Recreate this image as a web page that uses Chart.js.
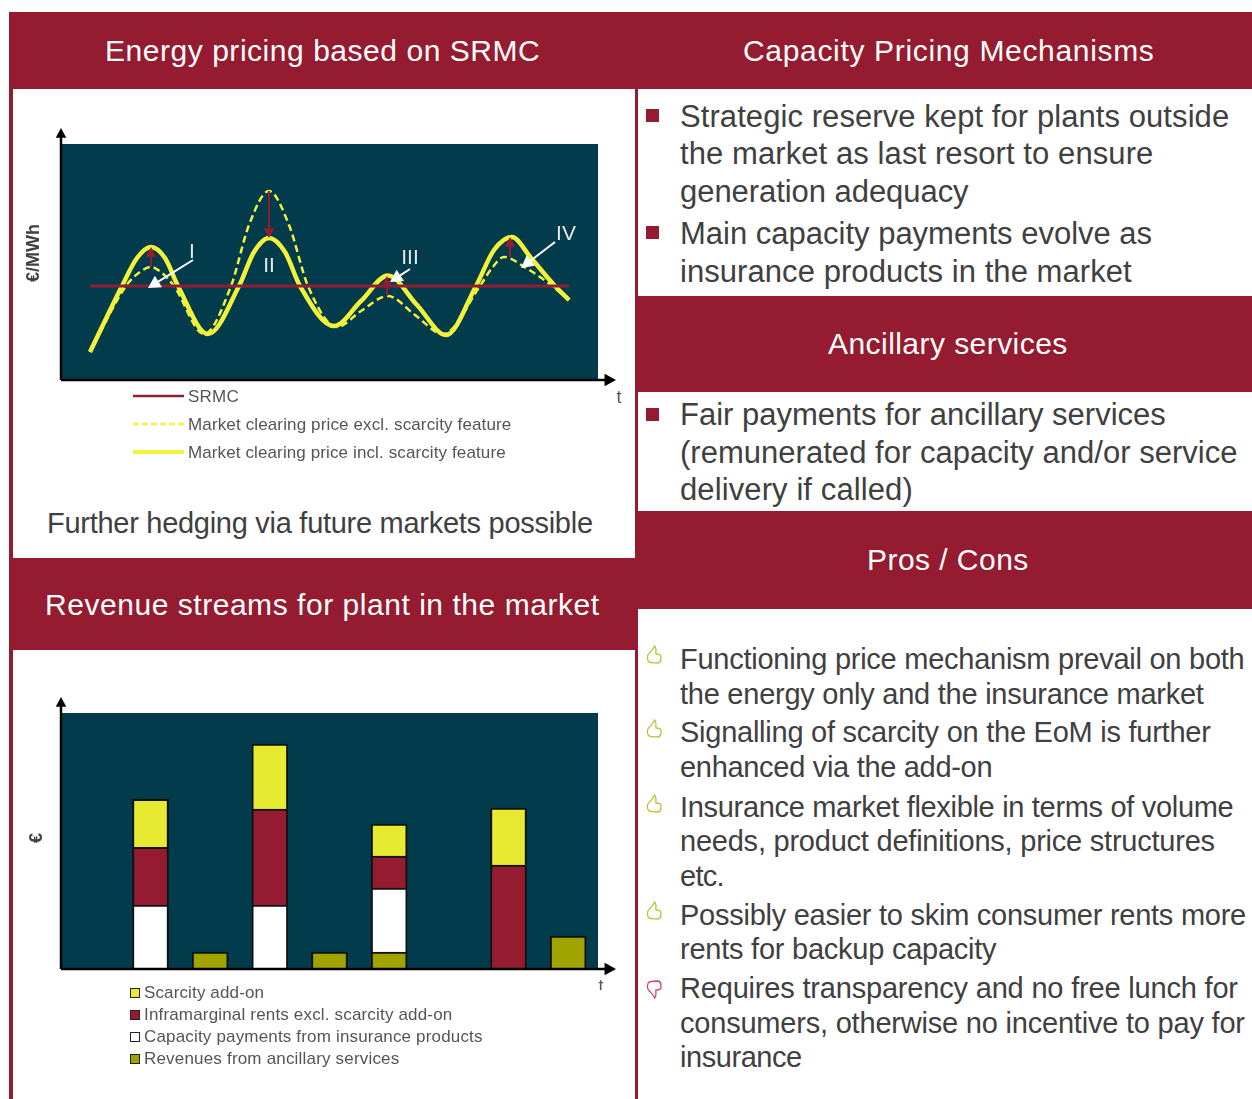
<!DOCTYPE html>
<html lang="en">
<head>
<meta charset="UTF-8">
<title>Energy and capacity pricing</title>
<script src="https://cdn.jsdelivr.net/npm/chart.js"></script>
<style>
    html, body { margin: 0; padding: 0; background: #fff; }
    #page { position: relative; width: 1252px; height: 1099px; overflow: hidden; font-family: "Liberation Sans", Arial, sans-serif; color: #404040; }
    .box { position: absolute; background: #951c30; }
    .line { position: absolute; white-space: nowrap; transform: translateY(-50%); }
    .white { color: #fff; }
    .legtext { color: #555; }
    canvas { position: absolute; }
    .swatch { position: absolute; width: 8px; height: 8px; border: 1.5px solid #222; }
    svg { position: absolute; }
</style>
</head>
<body>
<div id="page">
    <canvas id="priceChart" width="620" height="310" style="left:14px;top:100px"></canvas>
    <canvas id="revenueChart" width="620" height="310" style="left:14px;top:680px"></canvas>
</div>

<script>
    // Line chart values (arbitrary units, no ticks in the original)
    const priceMax = 236;
    const timeMax = 537;
    const srmc = [[29, 94], [508, 94]];
    const priceExcl = [[29, 28], [65, 94], [79, 108], [90, 113], [101, 107], [113, 94], [143, 46], [170, 94], [188, 155], [208, 189], [228, 155], [247, 94], [276, 53], [300, 69], [327, 84], [354, 65], [382, 46], [419, 94], [431, 112], [443, 123], [465, 112], [486, 98], [508, 80]];
    const priceIncl = [[29, 28], [61, 94], [76, 122], [90, 133], [104, 122], [117, 94], [147, 46], [178, 94], [193, 128], [208, 142], [224, 128], [239, 94], [273, 54], [300, 79], [327, 104.5], [356, 75], [385, 45], [415, 94], [433, 130], [451, 143], [470, 122], [494, 94], [508, 80]];

    // Bar chart values
    const periods = ['', 'A', 'B', 'C', 'D', 'E', 'F', 'G', 'H'];
    const revenueMax = 16;
    const ancillary = [0, 0, 1.05, 0, 1.05, 1.05, 0, 0, 2.05];
    const capacity = [0, 4, 0, 4, 0, 4, 0, 0, 0];
    const inframarginal = [0, 3.6, 0, 6, 0, 2, 0, 6.5, 0];
    const scarcity = [0, 3, 0, 4.05, 0, 2, 0, 3.55, 0];

    // Annotations on the line chart: [from t, from v, to t, to v]
    const redArrows = [[90, 113, 90, 133], [208, 189, 208, 142], [326, 84, 326, 104], [449, 123, 449, 143]];
    const whiteArrows = [[132, 120, 87, 92], [349, 111, 329, 98], [494, 138, 460, 112]];
    const romanLabels = [['I', 131, 128], ['II', 208, 114], ['III', 349, 122], ['IV', 505, 146]];

    // Text lines: text, left, right, middle y
    const headers = [
        ['Energy pricing based on SRMC', 105, 540, 51],
        ['Capacity Pricing Mechanisms', 743, 1154, 51],
        ['Ancillary services', 828, 1068, 344],
        ['Pros / Cons', 867, 1029, 560],
        ['Revenue streams for plant in the market', 45, 600, 605]
    ];
    const bodyLines = [
        ['Strategic reserve kept for plants outside', 680, 1229, 117],
        ['the market as last resort to ensure', 680, 1153, 154],
        ['generation adequacy', 680, 969, 192],
        ['Main capacity payments evolve as', 680, 1152, 234],
        ['insurance products in the market', 680, 1132, 272],
        ['Fair payments for ancillary services', 680, 1166, 415],
        ['(remunerated for capacity and/or service', 680, 1238, 453],
        ['delivery if called)', 680, 913, 490]
    ];
    const hedgeLine = ['Further hedging via future markets possible', 47, 593, 523];
    const prosLines = [
        ['Functioning price mechanism prevail on both', 680, 1244, 659],
        ['the energy only and the insurance market', 680, 1204, 694],
        ['Signalling of scarcity on the EoM is further', 680, 1211, 732],
        ['enhanced via the add-on', 680, 992, 767],
        ['Insurance market flexible in terms of volume', 680, 1233, 807],
        ['needs, product definitions, price structures', 680, 1215, 841],
        ['etc.', 680, 724, 876],
        ['Possibly easier to skim consumer rents more', 680, 1246, 915],
        ['rents for backup capacity', 680, 996, 949],
        ['Requires transparency and no free lunch for', 680, 1238, 988],
        ['consumers, otherwise no incentive to pay for', 680, 1245, 1023],
        ['insurance', 680, 802, 1057]
    ];

    const priceLegend = [['SRMC', 188, 239, 397], ['Market clearing price excl. scarcity feature', 188, 511, 425], ['Market clearing price incl. scarcity feature', 188, 506, 453]];
    const revenueLegend = [['Scarcity add-on', 144, 264, 993], ['Inframarginal rents excl. scarcity add-on', 144, 452, 1015], ['Capacity payments from insurance products', 144, 483, 1037], ['Revenues from ancillary services', 144, 399, 1059]];
    const swatchColors = ['#e6ea30', '#951c30', '#ffffff', '#a0a300'];

    const bars = [[9, 12, 1243, 77], [9, 12, 3.5, 1087], [634.5, 89, 3.5, 1010], [638, 296, 614, 96], [638, 511, 614, 98], [9, 558, 626, 92]];
    const page = document.getElementById('page');

    bars.forEach(b => {
        const d = document.createElement('div');
        d.className = 'box';
        d.style.cssText = `left:${b[0]}px;top:${b[1]}px;width:${b[2]}px;height:${b[3]}px`;
        page.appendChild(d);
    });

    // Place a line of text and stretch it a little to the width in the picture
    function addLine(row, size, cls) {
        const d = document.createElement('div');
        d.className = 'line ' + (cls || '');
        d.textContent = row[0];
        d.style.left = row[1] + 'px';
        d.style.top = row[3] + 'px';
        d.style.fontSize = size + 'px';
        page.appendChild(d);
        const extra = (row[2] - row[1] - d.offsetWidth) / row[0].length;
        d.style.letterSpacing = extra.toFixed(3) + 'px';
    }
    headers.forEach(r => addLine(r, 30, 'white'));
    bodyLines.forEach(r => addLine(r, 31));
    addLine(hedgeLine, 29);
    prosLines.forEach(r => addLine(r, 29));

    // Square bullets
    [115, 232, 414].forEach(y => {
        const d = document.createElement('div');
        d.className = 'box';
        d.style.cssText = `left:646px;top:${y - 6}px;width:13px;height:13px`;
        page.appendChild(d);
    });

    // Thumb icons
    function addThumb(y, down) {
        const color = down ? '#c9485f' : '#b9c23a';
        const s = document.createElementNS('http://www.w3.org/2000/svg', 'svg');
        s.setAttribute('width', 16);
        s.setAttribute('height', 20);
        s.style.left = '646px';
        s.style.top = (y - 10) + 'px';
        if (down) s.style.transform = 'scale(1,-1)';
        s.innerHTML = `<path d="M8.5 1 C8 4 5 6 3 8.5 C1 10 1 14 2.5 16.5 C4 18 9 18 12 18 C15 17.5 15 15 15 12 C15 9.5 13 9 10 9 C9.5 6 11 3 8.5 1 Z" fill="none" stroke="${color}" stroke-width="1.3"/>`;
        page.appendChild(s);
    }
    [655, 729, 804, 911].forEach(y => addThumb(y, false));
    addThumb(989, true);

    // Legends below the two plots
    priceLegend.forEach(r => addLine(r, 17, 'legtext'));
    revenueLegend.forEach((r, i) => {
        addLine(r, 17, 'legtext');
        const sw = document.createElement('div');
        sw.className = 'swatch';
        sw.style.cssText = `left:130px;top:${r[3] - 5}px;background:${swatchColors[i]}`;
        page.appendChild(sw);
    });

    // Legend line samples for the price chart
    const legendLines = document.createElementNS('http://www.w3.org/2000/svg', 'svg');
    legendLines.setAttribute('width', 60);
    legendLines.setAttribute('height', 70);
    legendLines.style.cssText = 'left:130px;top:390px';
    legendLines.innerHTML = '<line x1="3" x2="54" y1="6" y2="6" stroke="#951c30" stroke-width="2.5"/><line x1="3" x2="54" y1="34" y2="34" stroke="#f2f23a" stroke-width="2.5" stroke-dasharray="6 3"/><line x1="3" x2="54" y1="62" y2="62" stroke="#f2f23a" stroke-width="4"/>';
    page.appendChild(legendLines);

    function drawArrow(c, x0, y0, x1, y1, color, lw, head) {
        const a = Math.atan2(y1 - y0, x1 - x0);
        c.strokeStyle = color;
        c.fillStyle = color;
        c.lineWidth = lw;
        c.beginPath();
        c.moveTo(x0, y0);
        c.lineTo(x1 - Math.cos(a) * head * 0.8, y1 - Math.sin(a) * head * 0.8);
        c.stroke();
        c.beginPath();
        c.moveTo(x1, y1);
        c.lineTo(x1 - Math.cos(a - 0.5) * head, y1 - Math.sin(a - 0.5) * head);
        c.lineTo(x1 - Math.cos(a + 0.5) * head, y1 - Math.sin(a + 0.5) * head);
        c.closePath();
        c.fill();
    }

    // Axis lines with arrow tips and the axis captions
    const axisPlugin = {
        id: 'axisArrows',
        afterDraw(chart, args, opts) {
            const c = chart.ctx, a = chart.chartArea;
            c.save();
            drawArrow(c, a.left, a.bottom, a.left, a.top - 16, '#000', 2.5, 11);
            drawArrow(c, a.left, a.bottom, a.right + 18, a.bottom, '#000', 2.5, 13);
            c.fillStyle = '#555';
            c.font = '18px "Liberation Sans"';
            c.textAlign = 'center';
            c.textBaseline = 'middle';
            c.fillText('t', a.right + opts.tx, a.bottom + opts.ty);
            c.translate(a.left - opts.labelX, opts.labelY);
            c.rotate(-Math.PI / 2);
            c.fillStyle = '#404040';
            c.font = 'bold 18px "Liberation Sans"';
            c.fillText(opts.label, 0, 0);
            c.restore();
        }
    };

    // Scarcity arrows and roman numerals, placed through the scales
    const notePlugin = {
        id: 'notes',
        afterDatasetsDraw(chart) {
            const c = chart.ctx, x = chart.scales.x, y = chart.scales.y;
            c.save();
            redArrows.forEach(r => drawArrow(c, x.getPixelForValue(r[0]), y.getPixelForValue(r[1]), x.getPixelForValue(r[2]), y.getPixelForValue(r[3]), '#951c30', 2, 11));
            whiteArrows.forEach(r => drawArrow(c, x.getPixelForValue(r[0]), y.getPixelForValue(r[1]), x.getPixelForValue(r[2]), y.getPixelForValue(r[3]), '#ffffff', 2, 14));
            c.fillStyle = '#e8e8e8';
            c.font = '21px "Liberation Sans"';
            c.textAlign = 'center';
            c.textBaseline = 'middle';
            romanLabels.forEach(r => c.fillText(r[0], x.getPixelForValue(r[1]), y.getPixelForValue(r[2])));
            c.restore();
        }
    };

    const plotBackground = {
        id: 'plotBackground',
        beforeDraw(chart) {
            const a = chart.chartArea;
            chart.ctx.fillStyle = '#023c4c';
            chart.ctx.fillRect(a.left, a.top, a.right - a.left, a.bottom - a.top);
        }
    };

    const toPoints = rows => rows.map(r => ({ x: r[0], y: r[1] }));

    new Chart(document.getElementById('priceChart'), {
        type: 'line',
        data: {
            datasets: [
                { label: 'SRMC', data: toPoints(srmc), borderColor: '#951c30', borderWidth: 3, pointRadius: 0 },
                { label: 'Market clearing price excl. scarcity feature', data: toPoints(priceExcl), borderColor: '#f2f23a', borderWidth: 2.5, borderDash: [7, 4], pointRadius: 0, cubicInterpolationMode: 'monotone' },
                { label: 'Market clearing price incl. scarcity feature', data: toPoints(priceIncl), borderColor: '#f2f23a', borderWidth: 4.5, pointRadius: 0, cubicInterpolationMode: 'monotone' }
            ]
        },
        options: {
            responsive: false,
            animation: false,
            layout: { padding: { left: 47, right: 36, top: 44, bottom: 30 } },
            scales: {
                x: { type: 'linear', display: false, min: 0, max: timeMax },
                y: { display: false, min: 0, max: priceMax }
            },
            plugins: {
                legend: { display: false },
                tooltip: { enabled: false },
                axisArrows: { label: '€/MWh', labelX: 27, labelY: 153, tx: 21, ty: 18 }
            }
        },
        plugins: [plotBackground, notePlugin, axisPlugin]
    });

    new Chart(document.getElementById('revenueChart'), {
        type: 'bar',
        data: {
            labels: periods,
            datasets: [
                { label: 'Revenues from ancillary services', data: ancillary, backgroundColor: '#a0a300' },
                { label: 'Capacity payments from insurance products', data: capacity, backgroundColor: '#ffffff' },
                { label: 'Inframarginal rents excl. scarcity add-on', data: inframarginal, backgroundColor: '#951c30' },
                { label: 'Scarcity add-on', data: scarcity, backgroundColor: '#e6ea30' }
            ].map(d => Object.assign(d, { borderColor: '#111', borderWidth: 2, barThickness: 36 }))
        },
        options: {
            responsive: false,
            animation: false,
            layout: { padding: { left: 47, right: 36, top: 33, bottom: 21 } },
            scales: {
                x: { stacked: true, display: false },
                y: { stacked: true, display: false, min: 0, max: revenueMax }
            },
            plugins: {
                legend: { display: false },
                tooltip: { enabled: false },
                axisArrows: { label: '€', labelX: 24, labelY: 158, tx: 3, ty: 18 }
            }
        },
        plugins: [plotBackground, axisPlugin]
    });
</script>
</body>
</html>
